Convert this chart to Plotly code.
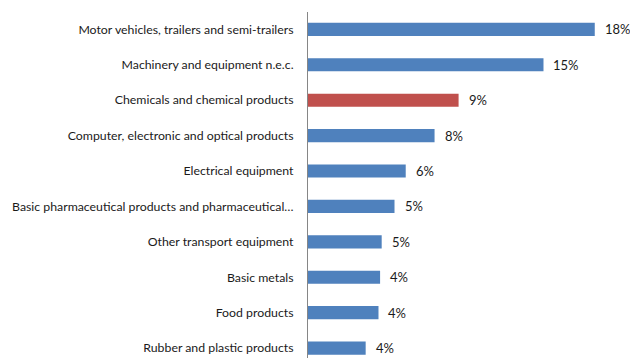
import plotly.graph_objects as go

categories = [
    "Motor vehicles, trailers and semi-trailers",
    "Machinery and equipment n.e.c.",
    "Chemicals and chemical products",
    "Computer, electronic and optical products",
    "Electrical equipment",
    "Basic pharmaceutical products and pharmaceutical…",
    "Other transport equipment",
    "Basic metals",
    "Food products",
    "Rubber and plastic products",
]
values = [17.9, 14.7, 9.4, 7.9, 6.1, 5.4, 4.6, 4.5, 4.4, 3.6]
labels = ["18%", "15%", "9%", "8%", "6%", "5%", "5%", "4%", "4%", "4%"]
highlight = "Chemicals and chemical products"

colors = ["#C0504D" if c == highlight else "#4F81BD" for c in categories]

fig = go.Figure(go.Bar(
    x=values, y=categories, orientation="h",
    marker=dict(color=colors, line=dict(width=0)),
    width=0.37,
))

for c, v, t in zip(categories, values, labels):
    fig.add_annotation(x=v, y=c, text=t, showarrow=False, xanchor="left",
                       xshift=8, font=dict(size=13, color="#1a1a1a", family="Lato"))

fig.update_layout(
    width=630, height=358,
    margin=dict(l=308, r=0, t=12, b=0),
    plot_bgcolor="white", paper_bgcolor="white",
    showlegend=False,
    font=dict(family="Lato", size=12.5, color="#1a1a1a"),
    xaxis=dict(range=[0, 20.1], visible=False, fixedrange=True),
    yaxis=dict(
        categoryorder="array", categoryarray=categories,
        range=[9.28, -0.49],
        showline=True, linecolor="#868686", linewidth=1,
        ticks="", ticklabelstandoff=11, showgrid=False,
        tickfont=dict(size=12.3, family="Lato", color="#1a1a1a"),
    ),
)

fig.write_html("out.html")
